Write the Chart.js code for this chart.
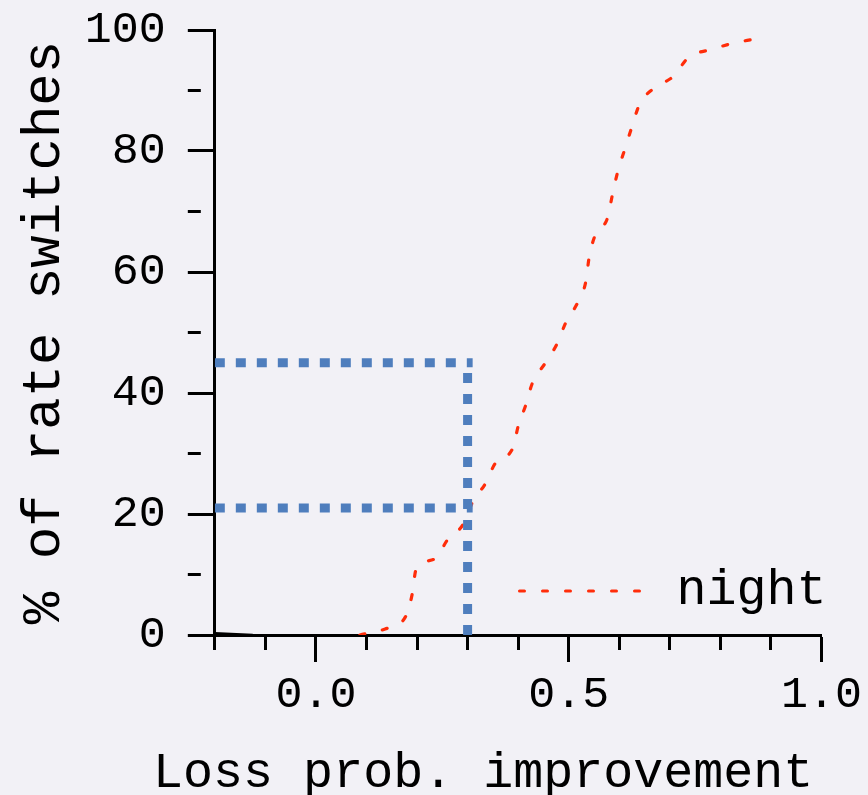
<!DOCTYPE html>
<html>
<head>
<meta charset="utf-8">
<script src="https://cdn.jsdelivr.net/npm/chart.js@4.4.1/dist/chart.umd.min.js"></script>
<style>
  html, body { margin: 0; padding: 0; background: #f2f1f6; }
  #wrap { width: 868px; height: 795px; }
</style>
</head>
<body>
<div id="wrap"><canvas id="cdfChart"></canvas></div>
<script>
// CDF of loss probability improvement, "night" series
const nightX = [0.087, 0.137, 0.177, 0.19, 0.198, 0.236, 0.26, 0.292, 0.31, 0.335, 0.355, 0.39, 0.40, 0.415,
  0.428, 0.454, 0.478, 0.494, 0.518, 0.534, 0.54, 0.552, 0.577, 0.587, 0.597, 0.611, 0.625, 0.640,
  0.669, 0.708, 0.736, 0.782, 0.825, 0.867];
const nightY = [0, 1, 3, 6.6, 10.8, 12.6, 15.7, 18.4, 22, 25, 28.4, 31, 34.5, 38,
  41.6, 45, 48.3, 51.6, 55, 58.5, 62.2, 66, 69, 73, 76.6, 80.3, 84, 87.7,
  90.4, 92.4, 95.4, 96.8, 97.8, 98.5];

// short black trace at the left edge
const otherX = [-0.2, -0.125];
const otherY = [0.3, 0];

// reference marker lines
const refX = 0.3;
const refLevels = [45, 21];

const majorX = [0, 0.5, 1.0];
const xTitle = "Loss prob. improvement";
const yTitle = "% of rate switches";
const red = "#ff2d0a";
const blue = "#4f7ebd";
const monoFont = "'Liberation Mono', 'DejaVu Sans Mono', monospace";

const toPoints = (xs, ys) => xs.map((x, i) => ({ x: x, y: ys[i] }));

// legend inside the plot (bottom right) and the x title, which is wider than the axis
const annotations = {
  id: "annotations",
  afterDatasetsDraw(chart) {
    const { ctx, chartArea } = chart;
    const y = chartArea.bottom - 44;
    ctx.save();
    ctx.strokeStyle = red;
    ctx.lineWidth = 3;
    ctx.lineCap = "round";
    ctx.setLineDash([5, 18]);
    ctx.beginPath();
    ctx.moveTo(chartArea.right - 302, y);
    ctx.lineTo(chartArea.right - 177, y);
    ctx.stroke();
    ctx.setLineDash([]);
    ctx.fillStyle = "#000";
    ctx.font = "50px " + monoFont;
    ctx.textAlign = "right";
    ctx.textBaseline = "middle";
    ctx.fillText("night", chartArea.right + 5, y);

    ctx.textAlign = "center";
    ctx.fillText(xTitle, (chartArea.left + chartArea.right) / 2 - 35, chartArea.bottom + 139);
    ctx.restore();
  }
};

const isMajorX = (v) => majorX.some((m) => Math.abs(m - v) < 1e-6);
const isMajorY = (v) => Math.abs(v % 20) < 1e-6;

const dotted = {
  borderColor: blue,
  borderWidth: 9,
  borderDash: [10, 11],
  borderCapStyle: "butt",
  pointRadius: 0,
  tension: 0,
};

new Chart(document.getElementById("cdfChart"), {
  type: "line",
  data: {
    datasets: [
      Object.assign({ label: "ref45", data: [{ x: -0.2, y: refLevels[0] }, { x: refX + 0.01, y: refLevels[0] }] }, dotted),
      Object.assign({ label: "ref21", data: [{ x: -0.2, y: refLevels[1] }, { x: refX + 0.01, y: refLevels[1] }] }, dotted),
      Object.assign({ label: "refX", data: [{ x: refX, y: 0 }, { x: refX, y: refLevels[0] }] }, dotted),
      {
        label: "other",
        data: toPoints(otherX, otherY),
        borderColor: "#000",
        borderWidth: 2.5,
        pointRadius: 0,
      },
      {
        label: "night",
        data: toPoints(nightX, nightY),
        borderColor: red,
        borderWidth: 3.2,
        borderDash: [5, 18],
        borderCapStyle: "round",
        pointRadius: 0,
        cubicInterpolationMode: "monotone",
      },
    ],
  },
  options: {
    responsive: true,
    maintainAspectRatio: false,
    animation: false,
    layout: { padding: { left: 12, right: 6, top: 30, bottom: 67 } },
    plugins: {
      legend: { display: false },
      tooltip: { enabled: false },
    },
    scales: {
      x: {
        type: "linear",
        min: -0.2,
        max: 1.0,
        ticks: {
          stepSize: 0.1,
          autoSkip: false,
          maxRotation: 0,
          padding: 6,
          color: "#000",
          font: { family: monoFont, size: 45 },
          callback: (v) => (isMajorX(v) ? Math.abs(Number(v)).toFixed(1) : ""),
        },
        grid: {
          drawOnChartArea: false,
          tickLength: 27,
          tickWidth: 3,
          tickColor: "#000",
          tickBorderDash: (c) => (c.tick && isMajorX(c.tick.value) ? [] : [13, 100]),
        },
        border: { color: "#000", width: 3 },
      },
      y: {
        type: "linear",
        min: 0,
        max: 100,
        ticks: {
          stepSize: 10,
          autoSkip: false,
          padding: 22,
          color: "#000",
          font: { family: monoFont, size: 45, lineHeight: 0.3 },
          callback: (v) => (isMajorY(v) ? String(v) : ""),
        },
        grid: {
          drawOnChartArea: false,
          tickLength: 27,
          tickWidth: 3,
          tickColor: "#000",
          tickBorderDash: (c) => (c.tick && isMajorY(c.tick.value) ? [] : [13, 100]),
        },
        border: { color: "#000", width: 3 },
        title: {
          display: true,
          text: yTitle,
          color: "#000",
          font: { family: monoFont, size: 54 },
          padding: { top: 0, bottom: -14 },
        },
      },
    },
  },
  plugins: [annotations],
});
</script>
</body>
</html>
